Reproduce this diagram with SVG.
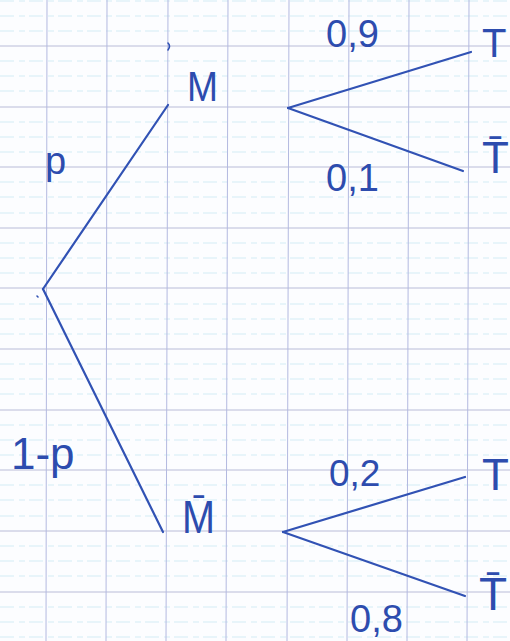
<svg xmlns="http://www.w3.org/2000/svg" width="510" height="641" viewBox="0 0 510 641">
  <defs>
    <style>
      .paper { fill: #fcfdff; }
      .major { stroke: #b9bcd8; stroke-width: 1; }
      .minor { stroke: #d3ecf5; stroke-width: 1; stroke-dasharray: 14 5 6 4; }
      .vert { stroke: #b3b9e0; stroke-width: 1; }
      .edge { stroke: #3152b4; stroke-width: 2.2; stroke-linecap: round; fill: none; }
      .lbl { font-family: "Liberation Sans", "DejaVu Sans", sans-serif; fill: #2d4cae; }
      .mark { stroke: #3152b4; stroke-width: 1.6; fill: none; stroke-linecap: round; }
    </style>
  </defs>

  <rect class="paper" x="0" y="0" width="510" height="641"/>

  <g id="grid">
    <g id="minor-lines">
      <line class="minor" x1="0" y1="1" x2="510" y2="1"/>
      <line class="minor" x1="0" y1="16" x2="510" y2="16"/>
      <line class="minor" x1="0" y1="31" x2="510" y2="31"/>
      <line class="minor" x1="0" y1="61" x2="510" y2="61"/>
      <line class="minor" x1="0" y1="76" x2="510" y2="76"/>
      <line class="minor" x1="0" y1="91" x2="510" y2="91"/>
      <line class="minor" x1="0" y1="122" x2="510" y2="122"/>
      <line class="minor" x1="0" y1="137" x2="510" y2="137"/>
      <line class="minor" x1="0" y1="152" x2="510" y2="152"/>
      <line class="minor" x1="0" y1="182" x2="510" y2="182"/>
      <line class="minor" x1="0" y1="197" x2="510" y2="197"/>
      <line class="minor" x1="0" y1="213" x2="510" y2="213"/>
      <line class="minor" x1="0" y1="243" x2="510" y2="243"/>
      <line class="minor" x1="0" y1="258" x2="510" y2="258"/>
      <line class="minor" x1="0" y1="273" x2="510" y2="273"/>
      <line class="minor" x1="0" y1="304" x2="510" y2="304"/>
      <line class="minor" x1="0" y1="319" x2="510" y2="319"/>
      <line class="minor" x1="0" y1="334" x2="510" y2="334"/>
      <line class="minor" x1="0" y1="364" x2="510" y2="364"/>
      <line class="minor" x1="0" y1="379" x2="510" y2="379"/>
      <line class="minor" x1="0" y1="394" x2="510" y2="394"/>
      <line class="minor" x1="0" y1="425" x2="510" y2="425"/>
      <line class="minor" x1="0" y1="440" x2="510" y2="440"/>
      <line class="minor" x1="0" y1="455" x2="510" y2="455"/>
      <line class="minor" x1="0" y1="485" x2="510" y2="485"/>
      <line class="minor" x1="0" y1="500" x2="510" y2="500"/>
      <line class="minor" x1="0" y1="516" x2="510" y2="516"/>
      <line class="minor" x1="0" y1="546" x2="510" y2="546"/>
      <line class="minor" x1="0" y1="561" x2="510" y2="561"/>
      <line class="minor" x1="0" y1="576" x2="510" y2="576"/>
      <line class="minor" x1="0" y1="607" x2="510" y2="607"/>
      <line class="minor" x1="0" y1="622" x2="510" y2="622"/>
      <line class="minor" x1="0" y1="637" x2="510" y2="637"/>
    </g>
    <g id="major-lines">
      <line class="major" x1="0" y1="46" x2="510" y2="46"/>
      <line class="major" x1="0" y1="107" x2="510" y2="107"/>
      <line class="major" x1="0" y1="167" x2="510" y2="167"/>
      <line class="major" x1="0" y1="228" x2="510" y2="228"/>
      <line class="major" x1="0" y1="288" x2="510" y2="288"/>
      <line class="major" x1="0" y1="349" x2="510" y2="349"/>
      <line class="major" x1="0" y1="410" x2="510" y2="410"/>
      <line class="major" x1="0" y1="470" x2="510" y2="470"/>
      <line class="major" x1="0" y1="531" x2="510" y2="531"/>
      <line class="major" x1="0" y1="592" x2="510" y2="592"/>
    </g>
    <g id="vertical-lines">
      <line class="vert" x1="47" y1="0" x2="46" y2="641"/>
      <line class="vert" x1="107" y1="0" x2="106" y2="641"/>
      <line class="vert" x1="168" y1="0" x2="166" y2="641"/>
      <line class="vert" x1="228" y1="0" x2="226" y2="641"/>
      <line class="vert" x1="289" y1="0" x2="287" y2="641"/>
      <line class="vert" x1="349" y1="0" x2="347" y2="641"/>
      <line class="vert" x1="409" y1="0" x2="407" y2="641"/>
      <line class="vert" x1="469" y1="0" x2="467" y2="641"/>
    </g>
  </g>

  <g id="connectors">
    <line class="edge" x1="43" y1="289" x2="168" y2="105"/>
    <line class="edge" x1="43" y1="289" x2="163" y2="532"/>
    <line class="edge" x1="288" y1="108" x2="471" y2="52"/>
    <line class="edge" x1="288" y1="108" x2="463" y2="171"/>
    <line class="edge" x1="283" y1="532" x2="465" y2="477"/>
    <line class="edge" x1="283" y1="532" x2="465" y2="596"/>
  </g>

  <g id="edge-labels">
    <text class="lbl" x="45" y="174" font-size="38">p</text>
    <text class="lbl" x="11" y="469" font-size="44">1-p</text>
    <text class="lbl" x="326" y="47" font-size="38">0,9</text>
    <text class="lbl" x="326" y="191" font-size="38">0,1</text>
    <text class="lbl" x="329" y="486" font-size="37">0,2</text>
    <text class="lbl" x="350" y="632" font-size="38">0,8</text>
  </g>

  <g id="root">
    <path class="mark" d="M37,296 l1,1"/>
  </g>

  <g id="M">
    <text class="lbl" x="187" y="101" font-size="43" textLength="31" lengthAdjust="spacingAndGlyphs">M</text>
    <path class="mark" d="M168,43 q3,3 0,7"/>
  </g>

  <g id="Mbar">
    <text class="lbl" x="182" y="533" font-size="46" textLength="33" lengthAdjust="spacingAndGlyphs">M̄</text>
  </g>

  <g id="T-top">
    <text class="lbl" x="482" y="57" font-size="40">T</text>
  </g>

  <g id="Tbar-top">
    <text class="lbl" x="482" y="173" font-size="44">T̄</text>
  </g>

  <g id="T-bottom">
    <text class="lbl" x="482" y="490" font-size="44">T</text>
  </g>

  <g id="Tbar-bottom">
    <text class="lbl" x="479" y="610" font-size="46">T̄</text>
  </g>
</svg>
